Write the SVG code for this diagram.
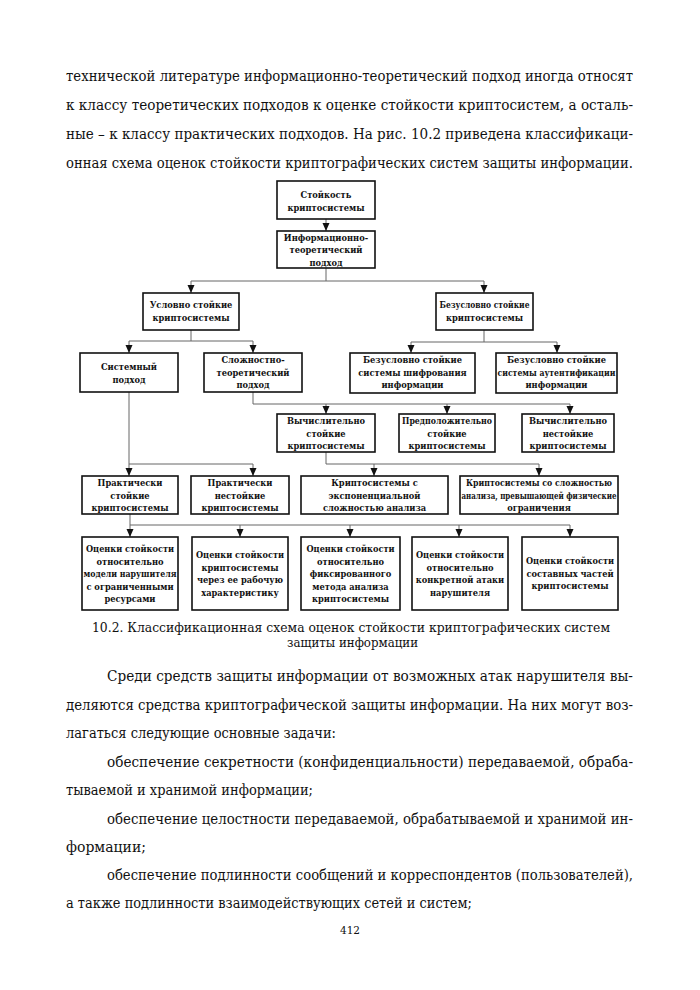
<svg xmlns="http://www.w3.org/2000/svg" width="700" height="990" viewBox="0 0 700 990">
<style>
.body{font-family:"DejaVu Serif","Liberation Serif",serif;font-size:14px;fill:#111}
.cap{font-family:"DejaVu Serif","Liberation Serif",serif;font-size:12.3px;fill:#111}
.pg{font-family:"DejaVu Serif","Liberation Serif",serif;font-size:10.5px;fill:#111}
.box{fill:#fff;stroke:#111;stroke-width:1.6}
.lbl{font-family:"DejaVu Serif","Liberation Serif",serif;font-size:8.3px;font-weight:bold;fill:#111;text-anchor:middle}
.conn{fill:none;stroke:#666;stroke-width:1}
</style>
<defs>
<marker id="ah" markerUnits="userSpaceOnUse" markerWidth="8" markerHeight="8" refX="8" refY="3.5" orient="auto">
<path d="M0,0 L8,3.5 L0,7 z" fill="#111"/>
</marker>
</defs>
<rect width="700" height="990" fill="#fff"/>

<g id="text-top">
<text class="body" x="66" y="81" textLength="567" lengthAdjust="spacingAndGlyphs">технической литературе информационно-теоретический подход иногда относят</text>
<text class="body" x="66" y="110" textLength="567" lengthAdjust="spacingAndGlyphs">к классу теоретических подходов к оценке стойкости криптосистем, а осталь-</text>
<text class="body" x="66" y="139" textLength="567" lengthAdjust="spacingAndGlyphs">ные – к классу практических подходов. На рис. 10.2 приведена классификаци-</text>
<text class="body" x="66" y="168" textLength="567" lengthAdjust="spacingAndGlyphs">онная схема оценок стойкости криптографических систем защиты информации.</text>
</g>

<g id="connectors">
<line class="conn" x1="326" y1="219" x2="326" y2="231" marker-end="url(#ah)"/>
<polyline class="conn" points="326,268 326,281"/>
<polyline class="conn" points="191,281 484,281"/>
<line class="conn" x1="191" y1="281" x2="191" y2="293" marker-end="url(#ah)"/>
<line class="conn" x1="484" y1="281" x2="484" y2="293" marker-end="url(#ah)"/>

<polyline class="conn" points="191,330 191,341"/>
<polyline class="conn" points="129,341 253,341"/>
<line class="conn" x1="129" y1="341" x2="129" y2="353" marker-end="url(#ah)"/>
<line class="conn" x1="253" y1="341" x2="253" y2="353" marker-end="url(#ah)"/>

<polyline class="conn" points="484,330 484,342"/>
<polyline class="conn" points="411,342 557,342"/>
<line class="conn" x1="411" y1="342" x2="411" y2="353" marker-end="url(#ah)"/>
<line class="conn" x1="557" y1="342" x2="557" y2="353" marker-end="url(#ah)"/>

<polyline class="conn" points="253,392 253,404 570,404"/>
<line class="conn" x1="326" y1="404" x2="326" y2="414" marker-end="url(#ah)"/>
<line class="conn" x1="447" y1="404" x2="447" y2="414" marker-end="url(#ah)"/>
<line class="conn" x1="570" y1="404" x2="570" y2="414" marker-end="url(#ah)"/>

<polyline class="conn" points="129,392 129,464 253,464"/>
<line class="conn" x1="129" y1="464" x2="129" y2="476" marker-end="url(#ah)"/>
<line class="conn" x1="253" y1="464" x2="253" y2="476" marker-end="url(#ah)"/>

<polyline class="conn" points="326,452 326,464 539,464"/>
<line class="conn" x1="374" y1="464" x2="374" y2="476" marker-end="url(#ah)"/>
<line class="conn" x1="539" y1="464" x2="539" y2="476" marker-end="url(#ah)"/>

<polyline class="conn" points="130,514 130,525 570,525"/>
<line class="conn" x1="130" y1="525" x2="130" y2="537" marker-end="url(#ah)"/>
<line class="conn" x1="240" y1="525" x2="240" y2="537" marker-end="url(#ah)"/>
<line class="conn" x1="350" y1="525" x2="350" y2="537" marker-end="url(#ah)"/>
<line class="conn" x1="459" y1="525" x2="459" y2="537" marker-end="url(#ah)"/>
<line class="conn" x1="570" y1="525" x2="570" y2="537" marker-end="url(#ah)"/>
</g>

<g id="n1"><rect class="box" x="277" y="181" width="98" height="38"/>
<text class="lbl" x="326" y="197.5">Стойкость</text><text class="lbl" x="326" y="210.5">криптосистемы</text></g>

<g id="n2"><rect class="box" x="277" y="231" width="98" height="37"/>
<text class="lbl" x="326" y="240.5">Информационно-</text><text class="lbl" x="326" y="253">теоретический</text><text class="lbl" x="326" y="265.5">подход</text></g>

<g id="n3"><rect class="box" x="143" y="293" width="96" height="37"/>
<text class="lbl" x="191" y="308">Условно стойкие</text><text class="lbl" x="191" y="321">криптосистемы</text></g>

<g id="n4"><rect class="box" x="436" y="293" width="97" height="37"/>
<text class="lbl" x="484.5" y="308" textLength="90" lengthAdjust="spacingAndGlyphs">Безусловно стойкие</text><text class="lbl" x="484.5" y="321">криптосистемы</text></g>

<g id="n5"><rect class="box" x="80" y="353" width="98" height="39"/>
<text class="lbl" x="129" y="369.5">Системный</text><text class="lbl" x="129" y="382.5">подход</text></g>

<g id="n6"><rect class="box" x="204" y="353" width="98" height="39"/>
<text class="lbl" x="253" y="363">Сложностно-</text><text class="lbl" x="253" y="375.5">теоретический</text><text class="lbl" x="253" y="388">подход</text></g>

<g id="n7"><rect class="box" x="350" y="353" width="125" height="40"/>
<text class="lbl" x="412.5" y="363">Безусловно стойкие</text><text class="lbl" x="412.5" y="375.5">системы шифрования</text><text class="lbl" x="412.5" y="388">информации</text></g>

<g id="n8"><rect class="box" x="496" y="353" width="121" height="40"/>
<text class="lbl" x="556.5" y="363">Безусловно стойкие</text><text class="lbl" x="556.5" y="375.5" textLength="118" lengthAdjust="spacingAndGlyphs">системы аутентификации</text><text class="lbl" x="556.5" y="388">информации</text></g>

<g id="n9"><rect class="box" x="277" y="414" width="98" height="38"/>
<text class="lbl" x="326" y="424">Вычислительно</text><text class="lbl" x="326" y="436.5">стойкие</text><text class="lbl" x="326" y="449">криптосистемы</text></g>

<g id="n10"><rect class="box" x="399" y="414" width="96" height="38"/>
<text class="lbl" x="447" y="424" textLength="90" lengthAdjust="spacingAndGlyphs">Предположительно</text><text class="lbl" x="447" y="436.5">стойкие</text><text class="lbl" x="447" y="449">криптосистемы</text></g>

<g id="n11"><rect class="box" x="522" y="414" width="92" height="38"/>
<text class="lbl" x="568" y="424">Вычислительно</text><text class="lbl" x="568" y="436.5">нестойкие</text><text class="lbl" x="568" y="449">криптосистемы</text></g>

<g id="n12"><rect class="box" x="82" y="476" width="96" height="38"/>
<text class="lbl" x="130" y="486">Практически</text><text class="lbl" x="130" y="498.5">стойкие</text><text class="lbl" x="130" y="511">криптосистемы</text></g>

<g id="n13"><rect class="box" x="191" y="476" width="98" height="38"/>
<text class="lbl" x="240" y="486">Практически</text><text class="lbl" x="240" y="498.5">нестойкие</text><text class="lbl" x="240" y="511">криптосистемы</text></g>

<g id="n14"><rect class="box" x="301" y="476" width="147" height="38"/>
<text class="lbl" x="374.5" y="486">Криптосистемы с</text><text class="lbl" x="374.5" y="498.5">экспоненциальной</text><text class="lbl" x="374.5" y="511">сложностью анализа</text></g>

<g id="n15"><rect class="box" x="460" y="476" width="158" height="38"/>
<text class="lbl" x="539" y="486" textLength="146" lengthAdjust="spacingAndGlyphs">Криптосистемы со сложностью</text><text class="lbl" x="539" y="498.5" textLength="155" lengthAdjust="spacingAndGlyphs">анализа, превышающей физические</text><text class="lbl" x="539" y="511">ограничения</text></g>

<g id="n16"><rect class="box" x="82" y="537" width="96" height="73"/>
<text class="lbl" x="130" y="552" textLength="88" lengthAdjust="spacingAndGlyphs">Оценки стойкости</text><text class="lbl" x="130" y="564.5">относительно</text><text class="lbl" x="130" y="577" textLength="93" lengthAdjust="spacingAndGlyphs">модели нарушителя</text><text class="lbl" x="130" y="589.5">с ограниченными</text><text class="lbl" x="130" y="602">ресурсами</text></g>

<g id="n17"><rect class="box" x="192" y="537" width="96" height="73"/>
<text class="lbl" x="240" y="558" textLength="88" lengthAdjust="spacingAndGlyphs">Оценки стойкости</text><text class="lbl" x="240" y="570.5">криптосистемы</text><text class="lbl" x="240" y="583">через ее рабочую</text><text class="lbl" x="240" y="595.5">характеристику</text></g>

<g id="n18"><rect class="box" x="301" y="537" width="99" height="73"/>
<text class="lbl" x="350.5" y="552" textLength="88" lengthAdjust="spacingAndGlyphs">Оценки стойкости</text><text class="lbl" x="350.5" y="564.5">относительно</text><text class="lbl" x="350.5" y="577">фиксированного</text><text class="lbl" x="350.5" y="589.5">метода анализа</text><text class="lbl" x="350.5" y="602">криптосистемы</text></g>

<g id="n19"><rect class="box" x="412" y="537" width="96" height="73"/>
<text class="lbl" x="460" y="558" textLength="88" lengthAdjust="spacingAndGlyphs">Оценки стойкости</text><text class="lbl" x="460" y="570.5">относительно</text><text class="lbl" x="460" y="583">конкретной атаки</text><text class="lbl" x="460" y="595.5">нарушителя</text></g>

<g id="n20"><rect class="box" x="522" y="537" width="96" height="73"/>
<text class="lbl" x="570" y="564" textLength="88" lengthAdjust="spacingAndGlyphs">Оценки стойкости</text><text class="lbl" x="570" y="576.5">составных частей</text><text class="lbl" x="570" y="589">криптосистемы</text></g>

<g id="caption">
<text class="cap" x="92" y="632" textLength="518" lengthAdjust="spacingAndGlyphs">10.2. Классификационная схема оценок стойкости криптографических систем</text>
<text class="cap" x="287" y="647" textLength="131" lengthAdjust="spacingAndGlyphs">защиты информации</text>
</g>

<g id="text-bottom">
<text class="body" x="107" y="681" textLength="526" lengthAdjust="spacingAndGlyphs">Среди средств защиты информации от возможных атак нарушителя вы-</text>
<text class="body" x="66" y="709.5" textLength="567" lengthAdjust="spacingAndGlyphs">деляются средства криптографической защиты информации. На них могут воз-</text>
<text class="body" x="66" y="738" textLength="270" lengthAdjust="spacingAndGlyphs">лагаться следующие основные задачи:</text>
<text class="body" x="107" y="766.5" textLength="526" lengthAdjust="spacingAndGlyphs">обеспечение секретности (конфиденциальности) передаваемой, обраба-</text>
<text class="body" x="66" y="795" textLength="247" lengthAdjust="spacingAndGlyphs">тываемой и хранимой информации;</text>
<text class="body" x="107" y="823.5" textLength="526" lengthAdjust="spacingAndGlyphs">обеспечение целостности передаваемой, обрабатываемой и хранимой ин-</text>
<text class="body" x="66" y="852">формации;</text>
<text class="body" x="107" y="880" textLength="526" lengthAdjust="spacingAndGlyphs">обеспечение подлинности сообщений и корреспондентов (пользователей),</text>
<text class="body" x="66" y="908" textLength="406" lengthAdjust="spacingAndGlyphs">а также подлинности взаимодействующих сетей и систем;</text>
<text class="pg" x="350" y="934" text-anchor="middle">412</text>
</g>
</svg>
